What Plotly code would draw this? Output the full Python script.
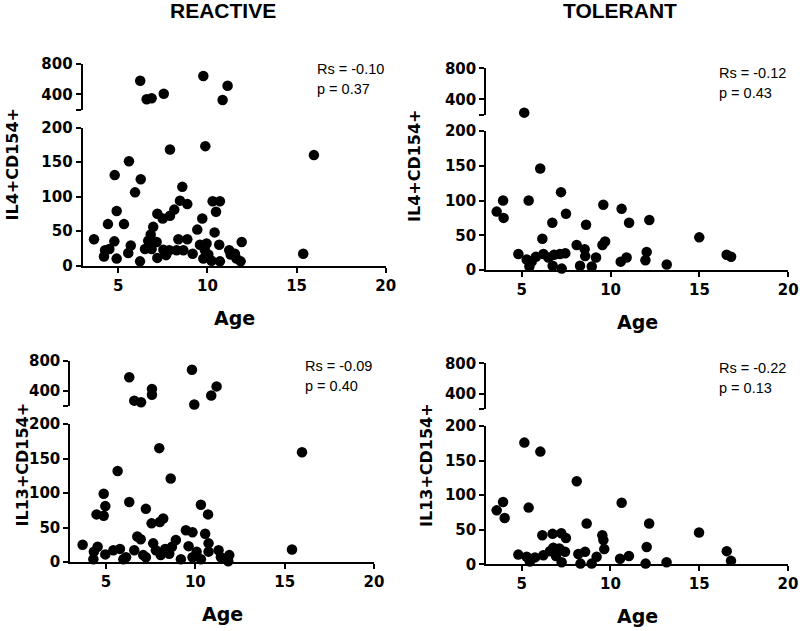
import plotly.graph_objects as go

# ---------------- data ----------------
reactive_il4_age = [6.23, 9.77, 11.13, 6.59, 6.87, 7.55, 10.85,
                    7.90, 9.88, 15.97, 5.60, 4.80, 6.26, 5.94, 8.59, 8.46, 8.87, 10.29, 10.70,
                    10.48, 4.91, 8.14, 7.90, 7.19, 7.49, 4.42, 5.32, 6.96, 9.71, 9.43, 10.40,
                    6.82, 3.64, 4.78, 5.70, 8.37, 8.87, 11.92, 9.58, 9.95, 10.66, 6.68, 7.15,
                    6.50, 6.87, 7.53, 7.86, 8.27, 8.65, 9.17, 4.26, 4.50, 5.56, 4.20, 4.91,
                    6.22, 7.19, 7.68, 9.86, 10.05, 9.77, 10.23, 10.70, 11.22, 11.30, 11.54,
                    11.63, 11.86, 15.37]
reactive_il4_val = [580, 642, 514, 335, 348, 408, 325,
                    168, 173, 160, 151, 131, 125, 106, 114, 94, 89, 93, 93,
                    78, 79, 81, 72, 75, 68, 60, 60, 56, 68, 52, 48,
                    45, 38, 35, 29, 38, 38, 34, 30, 32, 30, 36, 34,
                    24, 24, 23, 22, 22, 22, 17, 22, 24, 18, 13, 10,
                    6, 11, 15, 22, 16, 10, 7, 6, 22, 16, 17,
                    10, 6, 17]

tolerant_il4_age = [5.14, 6.04, 7.21, 3.95, 5.39, 3.59, 3.98, 7.49, 9.59, 10.62, 11.04, 12.18,
                    6.72, 8.62, 6.16, 14.99, 9.69, 9.54, 8.09, 8.54, 8.57, 9.18, 4.81, 5.28,
                    5.56, 5.43, 5.80, 6.22, 6.50, 6.82, 7.15, 7.45, 6.74, 7.25, 8.28, 8.94,
                    10.57, 10.90, 12.03, 11.96, 13.16, 16.53, 16.78]
tolerant_il4_val = [228, 146, 112, 100, 100, 84, 75, 81, 94, 88, 68, 72,
                    68, 65, 45, 47, 41, 36, 36, 30, 20, 18, 23, 15,
                    12, 5, 19, 23, 18, 22, 23, 24, 6, 2, 6, 5,
                    12, 18, 26, 14, 8, 22, 19]

reactive_il13_age = [6.30, 9.81, 11.19, 10.89, 9.94, 6.58, 6.96, 7.57, 7.57,
                     7.98, 15.97, 5.65, 8.62, 4.87, 4.96, 4.47, 4.87, 6.30, 7.23, 10.31, 10.71,
                     7.55, 8.01, 8.20, 9.47, 9.84, 10.55, 6.75, 6.94, 3.69, 4.53, 4.32, 4.29,
                     4.96, 5.41, 5.78, 6.12, 6.58, 7.08, 7.64, 7.79, 8.31, 8.69, 8.91, 8.54,
                     9.19, 9.62, 10.07, 9.84, 10.31, 10.74, 10.74, 11.30, 11.43, 11.90, 11.84,
                     15.41, 5.97, 7.23, 8.06]
reactive_il13_val = [582, 683, 459, 336, 215, 268, 246, 424, 346,
                     165, 159, 132, 121, 99, 81, 69, 67, 87, 77, 83, 69,
                     56, 58, 63, 46, 43, 41, 37, 33, 25, 22, 15, 4,
                     11, 17, 19, 7, 17, 10, 27, 17, 19, 22, 32, 12,
                     4, 23, 15, 7, 4, 27, 15, 17, 7, 10, 1,
                     18, 4, 7, 10]

tolerant_il13_age = [5.15, 6.05, 8.10, 3.95, 3.59, 4.04, 5.39, 10.63, 12.18, 8.66, 14.99,
                     6.16, 6.74, 7.23, 7.49, 9.54, 9.60, 9.65, 4.81, 5.28, 5.46, 5.75, 6.22,
                     6.59, 6.78, 7.12, 7.44, 6.93, 7.25, 8.19, 8.57, 8.31, 8.94, 9.22, 10.54,
                     11.04, 12.04, 11.98, 13.16, 16.55, 16.79]
tolerant_il13_val = [176, 163, 120, 90, 78, 67, 82, 89, 59, 59, 46,
                     42, 44, 45, 38, 42, 35, 22, 14, 11, 4, 10, 13,
                     19, 24, 23, 18, 12, 3, 15, 18, 1, 1, 11, 8,
                     12, 25, 1, 3, 19, 5]

stats = [("Rs = -0.10", "p = 0.37"), ("Rs = -0.12", "p = 0.43"),
         ("Rs = -0.09", "p = 0.40"), ("Rs = -0.22", "p = 0.13")]
column_titles = ["REACTIVE", "TOLERANT"]
y_titles = ["IL4+CD154+", "IL4+CD154+", "IL13+CD154+", "IL13+CD154+"]
x_title = "Age"
x_ticks = [5, 10, 15, 20]
low_ticks = [0, 50, 100, 150, 200]
high_ticks = [200, 400, 800]
high_ticktext = ["", "400", "800"]
BREAK = 200

panels = [(reactive_il4_age, reactive_il4_val), (tolerant_il4_age, tolerant_il4_val),
          (reactive_il13_age, reactive_il13_val), (tolerant_il13_age, tolerant_il13_val)]

# ---------------- layout geometry (pixels) ----------------
W, H = 800, 631
geo = [
    dict(x0=82.6, x1=385.8, lo=(265.5, 127.5), hi=(109.5, 64.0), yt=(11.5, 164)),
    dict(x0=486.2, x1=788.3, lo=(270.0, 131.0), hi=(114.8, 68.3), yt=(415, 166)),
    dict(x0=70.3, x1=374.0, lo=(562.0, 424.0), hi=(405.7, 361.0), yt=(22.5, 465)),
    dict(x0=486.2, x1=788.0, lo=(564.3, 426.0), hi=(409.3, 363.3), yt=(427, 465)),
]

def px(v):
    return v / W

def py(v):
    return (H - v) / H

fig = go.Figure()
layout = dict(template="none", width=W, height=H, margin=dict(l=0, r=0, t=0, b=0, autoexpand=False),
              paper_bgcolor="white", plot_bgcolor="white", showlegend=False)
annotations = []

for i, ((ages, vals), g) in enumerate(zip(panels, geo)):
    n = i + 1
    xa = "x" if n == 1 else f"x{n}"
    ylo_n = 2 * i + 1
    yhi_n = 2 * i + 2
    ylo = "y" if ylo_n == 1 else f"y{ylo_n}"
    yhi = f"y{yhi_n}"

    lo_x = [a for a, v in zip(ages, vals) if v <= BREAK]
    lo_y = [v for v in vals if v <= BREAK]
    hi_x = [a for a, v in zip(ages, vals) if v > BREAK]
    hi_y = [v for v in vals if v > BREAK]
    mk = dict(size=10.5, color="black", line=dict(width=0))
    fig.add_trace(go.Scatter(x=lo_x, y=lo_y, mode="markers", marker=mk, xaxis=xa, yaxis=ylo,
                             cliponaxis=False, hoverinfo="x+y"))
    fig.add_trace(go.Scatter(x=hi_x, y=hi_y, mode="markers", marker=mk, xaxis=xa, yaxis=yhi,
                             cliponaxis=False, hoverinfo="x+y"))

    axstyle = dict(showline=True, linecolor="black", linewidth=2, ticks="outside",
                   ticklen=5, tickwidth=2, tickcolor="black", showgrid=False, zeroline=False,
                   automargin=False,
                   tickfont=dict(family="DejaVu Sans", size=15, color="black"))
    xkey = "xaxis" if n == 1 else f"xaxis{n}"
    layout[xkey] = dict(domain=[px(g["x0"]), px(g["x1"])], range=[3, 20], anchor=ylo,
                        tickvals=x_ticks, ticktext=[f"<b>{t}</b>" for t in x_ticks], **axstyle)
    ylokey = "yaxis" if ylo_n == 1 else f"yaxis{ylo_n}"
    layout[ylokey] = dict(domain=[py(g["lo"][0]), py(g["lo"][1])], range=[0, 200], anchor=xa,
                          tickvals=low_ticks, ticktext=[f"<b>{t}</b>" for t in low_ticks], **axstyle)
    layout[f"yaxis{yhi_n}"] = dict(domain=[py(g["hi"][0]), py(g["hi"][1])], range=[200, 800],
                                   anchor=xa, tickvals=high_ticks,
                                   ticktext=[f"<b>{t}</b>" if t else "" for t in high_ticktext],
                                   **axstyle)

    # stats text
    for k in range(2):
        annotations.append(dict(text=stats[i][k], xref="paper", yref="paper",
                                x=px(g["x1"] - 71), y=py(g["hi"][1] + 5 + 20 * k),
                                xanchor="left", yanchor="middle", showarrow=False,
                                font=dict(family="Liberation Sans", size=14.5, color="black")))
    # y title
    annotations.append(dict(text=f"<b>{y_titles[i]}</b>", xref="paper", yref="paper",
                            x=px(g["yt"][0]), y=py(g["yt"][1]),
                            xanchor="center", yanchor="middle", textangle=-90, showarrow=False,
                            font=dict(family="DejaVu Sans", size=16, color="black")))
    # x title
    annotations.append(dict(text=f"<b>{x_title}</b>", xref="paper", yref="paper",
                            x=px((g["x0"] + g["x1"]) / 2), y=py(g["lo"][0] + 52),
                            xanchor="center", yanchor="middle", showarrow=False,
                            font=dict(family="DejaVu Sans", size=19, color="black")))

for j, t in enumerate(column_titles):
    annotations.append(dict(text=f"<b>{t}</b>", xref="paper", yref="paper",
                            x=px([223, 619.5][j]), y=py(11), xanchor="center", yanchor="middle",
                            showarrow=False, font=dict(family="Liberation Sans", size=21, color="black")))

layout["annotations"] = annotations
fig.update_layout(**layout)
fig.write_html("out.html", config={"displayModeBar": False},
               post_script="document.body.style.margin='0';")
